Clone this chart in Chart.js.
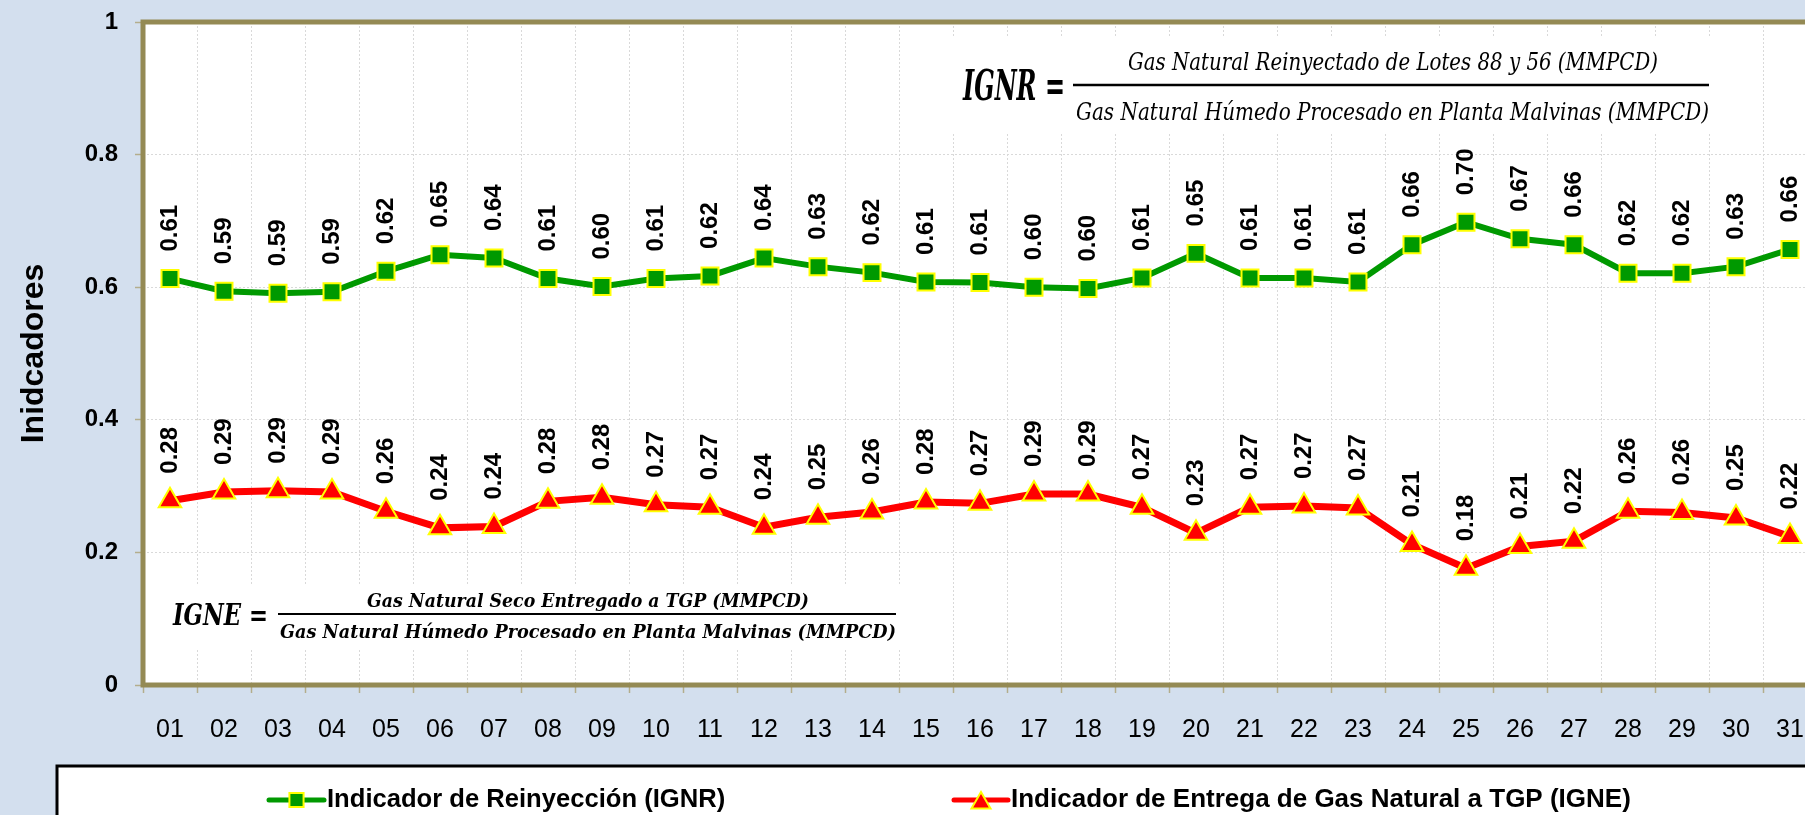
<!DOCTYPE html>
<html>
<head>
<meta charset="utf-8">
<script src="https://cdn.jsdelivr.net/npm/chart.js@4.4.1/dist/chart.umd.min.js"></script>
<style>
html,body{margin:0;padding:0;overflow:hidden;background:#D3DFEE;}
#wrap{width:1840px;height:815px;}
canvas{display:block;}
</style>
</head>
<body>
<div id="wrap"><canvas id="c" width="1840" height="815"></canvas></div>
<script>
// ---- data ----
const dias = ['01','02','03','04','05','06','07','08','09','10','11','12','13','14','15','16',
              '17','18','19','20','21','22','23','24','25','26','27','28','29','30','31'];
const ignr = [0.613,0.594,0.591,0.593,0.624,0.649,0.644,0.613,0.601,0.613,0.617,0.644,0.631,0.622,0.608,0.607,
              0.600,0.598,0.614,0.651,0.614,0.614,0.608,0.664,0.698,0.673,0.664,0.621,0.621,0.631,0.657];
const igne = [0.278,0.291,0.293,0.291,0.262,0.237,0.239,0.277,0.283,0.272,0.268,0.238,0.253,0.261,0.276,0.274,
              0.288,0.288,0.268,0.229,0.268,0.270,0.267,0.212,0.176,0.209,0.217,0.262,0.260,0.252,0.224];
const serieNombres = ['Indicador de Reinyección (IGNR)', 'Indicador de Entrega de Gas Natural a TGP (IGNE)'];
const tituloY = 'Inidcadores';
const formulaIGNR = ['IGNR =', 'Gas Natural Reinyectado de Lotes 88 y 56 (MMPCD)', 'Gas Natural Húmedo Procesado en Planta Malvinas (MMPCD)'];
const formulaIGNE = ['IGNE =', 'Gas Natural Seco Entregado a TGP (MMPCD)', 'Gas Natural Húmedo Procesado en Planta Malvinas (MMPCD)'];

const SANS = "'Liberation Sans', Arial, sans-serif";
const SERIF = "'DejaVu Serif', 'Liberation Serif', serif";
const BG = '#D3DFEE';
const OLIVE = '#948A54';
const GREEN = '#009900';
const RED = '#FF0000';
const YELLOW = '#FFFF00';

function fitText(ctx, text, x, baseline, width, font) {
  ctx.save();
  ctx.font = font;
  const w = ctx.measureText(text).width;
  ctx.translate(x, baseline);
  ctx.scale(width / w, 1);
  ctx.textAlign = 'left';
  ctx.textBaseline = 'alphabetic';
  ctx.fillStyle = '#000';
  ctx.fillText(text, 0, 0);
  ctx.restore();
}

const bgPlugin = {
  id: 'bg',
  beforeDraw(chart) {
    const {ctx, chartArea: a} = chart;
    ctx.save();
    ctx.fillStyle = BG;
    ctx.fillRect(0, 0, chart.width, chart.height);
    ctx.fillStyle = '#FFFFFF';
    ctx.fillRect(a.left, a.top, a.right - a.left, a.bottom - a.top);
    ctx.restore();
  }
};

const formulaPlugin = {
  id: 'formulas',
  beforeDatasetsDraw(chart) {
    const ctx = chart.ctx;
    ctx.save();
    ctx.fillStyle = '#FFFFFF';
    ctx.fillRect(940, 38, 785, 94);
    ctx.fillRect(160, 584, 745, 66);
    // IGNR
    fitText(ctx, formulaIGNR[0], 963, 100, 102, 'italic bold 42px ' + SERIF);
    fitText(ctx, formulaIGNR[1], 1128, 70, 530, 'italic 24px ' + SERIF);
    fitText(ctx, formulaIGNR[2], 1076, 120, 633, 'italic 24px ' + SERIF);
    ctx.strokeStyle = '#000';
    ctx.lineWidth = 2.5;
    ctx.beginPath(); ctx.moveTo(1073, 85); ctx.lineTo(1709, 85); ctx.stroke();
    // IGNE
    fitText(ctx, formulaIGNE[0], 173, 625, 95, 'italic bold 30px ' + SERIF);
    fitText(ctx, formulaIGNE[1], 367, 607, 442, 'italic bold 19px ' + SERIF);
    fitText(ctx, formulaIGNE[2], 280, 638, 616, 'italic bold 19px ' + SERIF);
    ctx.lineWidth = 2;
    ctx.beginPath(); ctx.moveTo(278, 614); ctx.lineTo(896, 614); ctx.stroke();
    ctx.restore();
  }
};

const labelPlugin = {
  id: 'vlabels',
  afterDatasetsDraw(chart) {
    const ctx = chart.ctx;
    ctx.save();
    ctx.font = 'bold 24px ' + SANS;
    ctx.fillStyle = '#000';
    ctx.textAlign = 'left';
    ctx.textBaseline = 'middle';
    chart.data.datasets.forEach((ds, di) => {
      const meta = chart.getDatasetMeta(di);
      meta.data.forEach((pt, i) => {
        ctx.save();
        ctx.translate(pt.x, pt.y - 27);
        ctx.rotate(-Math.PI / 2);
        ctx.fillText(ds.data[i].toFixed(2), 0, 0);
        ctx.restore();
      });
    });
    // plot border
    const a = chart.chartArea;
    ctx.strokeStyle = OLIVE;
    ctx.lineWidth = 5;
    ctx.strokeRect(a.left, a.top, a.right - a.left, a.bottom - a.top);
    ctx.restore();
  }
};

const legendPlugin = {
  id: 'customLegend',
  afterDraw(chart) {
    const ctx = chart.ctx;
    ctx.save();
    ctx.fillStyle = '#FFFFFF';
    ctx.fillRect(57, 766, 2000, 200);
    ctx.strokeStyle = '#000';
    ctx.lineWidth = 3;
    ctx.strokeRect(57, 766, 2000, 200);
    const items = [
      {x1: 269, x2: 324, tx: 327, r: 10, size: 25.6},
      {x1: 954, x2: 1008, tx: 1011, r: 11, size: 26}
    ];
    chart.data.datasets.forEach((ds, i) => {
      const it = items[i];
      const y = 800;
      ctx.strokeStyle = ds.borderColor;
      ctx.lineWidth = 5;
      ctx.lineCap = 'round';
      ctx.beginPath(); ctx.moveTo(it.x1, y); ctx.lineTo(it.x2, y); ctx.stroke();
      ctx.fillStyle = ds.pointBackgroundColor;
      ctx.strokeStyle = ds.pointBorderColor;
      ctx.lineWidth = 2;
      const cy = ds.pointStyle === 'triangle' ? y + 3 : y;
      Chart.helpers.drawPoint(ctx, {pointStyle: ds.pointStyle, radius: it.r, borderWidth: 2, rotation: 0}, (it.x1 + it.x2) / 2, cy);
      ctx.fillStyle = '#000';
      ctx.font = 'bold ' + it.size + 'px ' + SANS;
      ctx.textAlign = 'left';
      ctx.textBaseline = 'middle';
      ctx.fillText(ds.label, it.tx, y);
    });
    ctx.restore();
  }
};

new Chart(document.getElementById('c').getContext('2d'), {
  type: 'line',
  data: {
    labels: dias,
    datasets: [
      {label: serieNombres[0], data: ignr, borderColor: GREEN, backgroundColor: GREEN, borderWidth: 6,
       pointStyle: 'rect', pointRadius: 12, pointBackgroundColor: GREEN, pointBorderColor: YELLOW,
       pointBorderWidth: 2, tension: 0, fill: false},
      {label: serieNombres[1], data: igne, borderColor: RED, backgroundColor: RED, borderWidth: 7,
       pointStyle: 'triangle', pointRadius: 13, pointBackgroundColor: RED, pointBorderColor: YELLOW,
       pointBorderWidth: 2, tension: 0, fill: false}
    ]
  },
  options: {
    responsive: false,
    animation: false,
    layout: {autoPadding: false, padding: {top: 22, right: 23, bottom: 70, left: 0}},
    plugins: {legend: {display: false}, tooltip: {enabled: false}},
    scales: {
      x: {
        offset: true,
        grid: {offset: true, color: '#D9D9D9', lineWidth: 1, tickLength: 8, tickColor: '#B3AD8C', tickWidth: 1.5},
        border: {display: false, dash: [2, 2]},
        ticks: {font: {family: SANS, size: 25}, color: '#000', padding: 22, maxRotation: 0, autoSkip: false},
        afterFit(s) { s.height = 60; s.paddingLeft = 0; s.paddingRight = 0; }
      },
      y: {
        min: 0, max: 1,
        ticks: {stepSize: 0.2, font: {family: SANS, size: 24, weight: 'bold'}, color: '#000', padding: 17,
                callback: v => String(Math.round(v * 10) / 10)},
        grid: {color: '#D9D9D9', lineWidth: 1, tickLength: 8, tickColor: '#B3AD8C', tickWidth: 1.5},
        border: {display: false, dash: [2, 2]},
        title: {display: true, text: tituloY, color: '#000',
                font: {family: SANS, size: 32, weight: 'bold', lineHeight: 1}, padding: {top: 18, bottom: 0}},
        afterFit(s) { s.width = 143; s.paddingTop = 0; s.paddingBottom = 0; }
      }
    }
  },
  plugins: [bgPlugin, formulaPlugin, labelPlugin, legendPlugin]
});
</script>
</body>
</html>
